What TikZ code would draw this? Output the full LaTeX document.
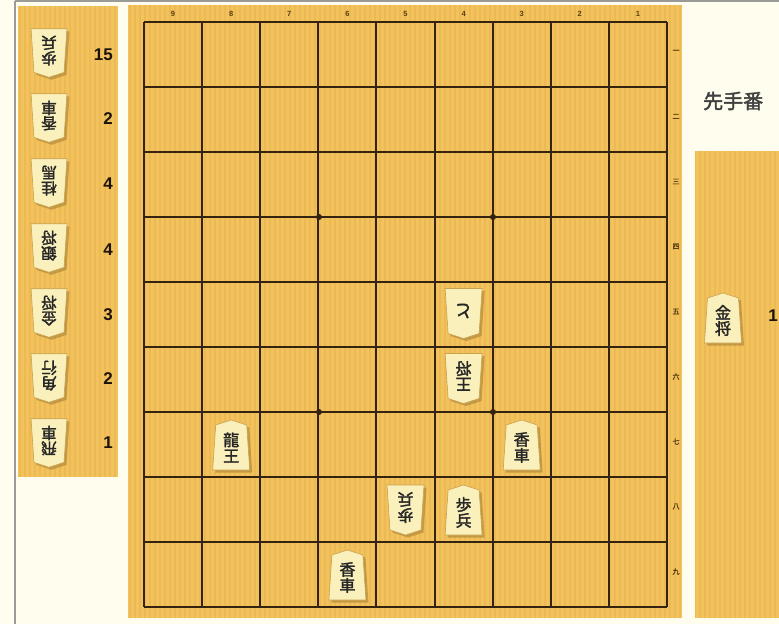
\documentclass[tikz,border=0pt]{standalone}
\usepackage{fontspec}
\setmainfont{Liberation Sans}
\newfontfamily\jp{Noto Sans CJK JP}
\newfontfamily\jpb{Noto Sans CJK JP}[FakeBold=2]
\definecolor{bgC}{HTML}{FFFEEE}
\definecolor{boardC}{HTML}{F2C25C}
\definecolor{stripeC}{HTML}{E4AC48}
\definecolor{lineC}{HTML}{33230F}
\definecolor{komaC}{HTML}{FAF0BC}
\definecolor{komaE}{HTML}{C9A24E}
\definecolor{shadowC}{HTML}{9C7630}
\definecolor{labelC}{HTML}{5A3E14}
\definecolor{frameC}{HTML}{9A9A96}
\newcommand\koma[7]{%
  \begin{scope}[shift={(#2+2.5,#3+2.5)},rotate=#5,scale=#6]
    \fill[komashadow] (0,-25) -- (15.5,-20) -- (18.5,25) -- (-18.5,25) -- (-15.5,-20) -- cycle;
  \end{scope}
  \begin{scope}[shift={(#2,#3)},rotate=#5,scale=#6]
    \filldraw[komafill] (0,-25) -- (15.5,-20) -- (18.5,25) -- (-18.5,25) -- (-15.5,-20) -- cycle;
    \node[komatext,rotate=#5,font=\jpb\fontsize{#7}{#7}\selectfont] (#1) at (0,2.5) {#4};
  \end{scope}}
\begin{document}
\begin{tikzpicture}[x=1pt,y=-1pt,
  komashadow/.style={fill=shadowC,opacity=0.5},
  komafill/.style={fill=komaC,draw=komaE,line width=0.6pt},
  komatext/.style={inner sep=0pt,align=center,text=black!85},
  gridline/.style={draw=lineC,line width=1.9pt},
  stripe/.style={draw=stripeC,line width=1.3pt,opacity=0.4},
  collabel/.style={font=\bfseries\fontsize{7.5}{7.5}\selectfont,text=labelC,inner sep=0pt},
  rowlabel/.style={font=\jpb\fontsize{7}{7}\selectfont,text=labelC,inner sep=0pt},
  count/.style={font=\bfseries\fontsize{17}{17}\selectfont,text=black!85!brown,inner sep=0pt,anchor=east},
  panel/.style={fill=boardC}]
\useasboundingbox (0,0) rectangle (779,624);
\fill[bgC] (0,0) rectangle (779,624);
% panels
\fill[panel] (18,6) rectangle (118,477);
\fill[panel] (128,5) rectangle (682,618);
\fill[panel] (695,151) rectangle (779,618);
\begin{scope}
  \clip (18,6) rectangle (118,477) (128,5) rectangle (682,618) (695,151) rectangle (779,618);
  \foreach \x in {20,25,...,780} \draw[stripe] (\x,0) -- (\x,624);
\end{scope}
% frame
\draw[frameC,line width=1.6pt] (15,1) -- (779,1);
\draw[frameC,line width=1.6pt] (15,1) -- (15,624);
% grid
\foreach \i in {0,...,9} {
  \draw[gridline] ({144+58.11*\i},22) -- ({144+58.11*\i},607);
  \draw[gridline] (144,{22+65*\i}) -- (667,{22+65*\i});
}
\foreach \x/\y [count=\s] in {319/217,493/217,319/412,493/412}
  \fill[lineC] (\x,\y) circle (3) coordinate (star\s);
% coordinates
\foreach \n [count=\i] in {9,8,7,6,5,4,3,2,1}
  \node[collabel] (col\n) at ({144+58.11*(\i-0.5)},14) {\n};
\foreach \k [count=\i] in {一,二,三,四,五,六,七,八,九}
  \node[rowlabel] (row\i) at (676,{22+65*(\i-0.5)-3}) {\k};
% board pieces
\koma{p45}{463.6}{313.5}{と}{180}{1}{18}
\koma{p46}{463.6}{378.5}{王\\将}{180}{1}{16}
\koma{p37}{521.7}{445}{香\\車}{0}{1}{16}
\koma{p87}{231.2}{445}{龍\\王}{0}{1}{16}
\koma{p58}{405.5}{510}{歩\\兵}{180}{1}{16}
\koma{p48}{463.6}{510}{歩\\兵}{0}{1}{16}
\koma{p69}{347.4}{575}{香\\車}{0}{1}{16}
% gote hand
\koma{h1}{49}{53}{歩\\兵}{180}{0.97}{15.5}
\koma{h2}{49}{118}{香\\車}{180}{0.97}{15.5}
\koma{h3}{49}{183}{桂\\馬}{180}{0.97}{15.5}
\koma{h4}{49}{248}{銀\\将}{180}{0.97}{15.5}
\koma{h5}{49}{313}{金\\将}{180}{0.97}{15.5}
\koma{h6}{49}{378}{角\\行}{180}{0.97}{15.5}
\koma{h7}{49}{443}{飛\\車}{180}{0.97}{15.5}
\foreach \c/\y [count=\i] in {15/55,2/119,4/184,4/250,3/315,2/379,1/443}
  \node[count] (n\i) at (113,\y) {\c};
% sente
\node[font=\jpb\fontsize{20}{20}\selectfont,text=black!75,anchor=west,inner sep=0pt] (turn) at (703,101) {先手番};
\koma{s1}{723}{318}{金\\将}{0}{1}{16}
\node[count,anchor=east] (sn1) at (778,316) {1};
\end{tikzpicture}
\end{document}
